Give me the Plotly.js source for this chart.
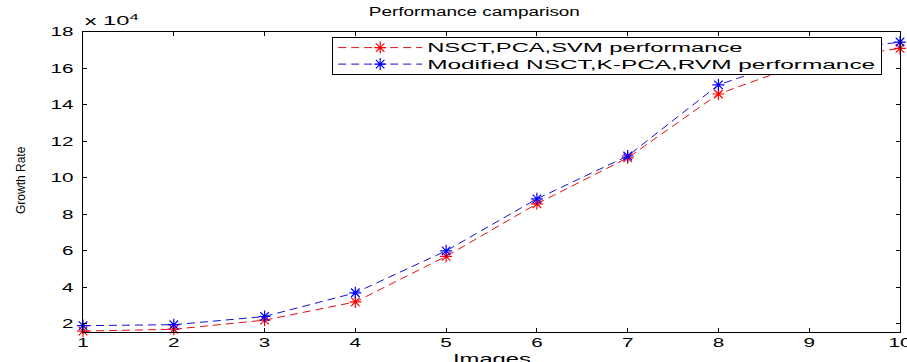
<!DOCTYPE html>
<html>
<head>
<meta charset="utf-8">
<script src="https://cdn.plot.ly/plotly-3.0.1.min.js"></script>
<style>
html,body{margin:0;padding:0;background:#fff;}
#chart{width:907px;height:362px;}
.xtick text, .ytick text { letter-spacing: 4.8px; }
.gtitle { letter-spacing: 3.5px; }
.legendtext { letter-spacing: 6.5px; }
</style>
</head>
<body>
<div id="chart"></div>
<script>
const images = [1, 2, 3, 4, 5, 6, 7, 8, 9, 10];
const nsctPcaSvm = [1.6, 1.7, 2.2, 3.2, 5.7, 8.58, 11.1, 14.6, 16.4, 17.1];
const modifiedNsctKpcaRvm = [1.9, 1.95, 2.4, 3.7, 6.0, 8.85, 11.2, 15.1, 16.8, 17.45];
const yTicks = [2, 4, 6, 8, 10, 12, 14, 16, 18];
const xTicks = [1, 2, 3, 4, 5, 6, 7, 8, 9, 10];

const font = "Liberation Sans, Arial, sans-serif";

const traces = [
  {
    x: images, y: nsctPcaSvm, name: "NSCT,PCA,SVM performance",
    mode: "lines+markers", cliponaxis: false,
    line: {color: "#e01010", width: 1, dash: "8px,5px"},
    marker: {symbol: "asterisk-open", size: 10, color: "#ff0000", line: {color: "#ff0000", width: 1.2}}
  },
  {
    x: images, y: modifiedNsctKpcaRvm, name: "Modified NSCT,K-PCA,RVM performance",
    mode: "lines+markers", cliponaxis: false,
    line: {color: "#1010d0", width: 1, dash: "8px,5px"},
    marker: {symbol: "asterisk-open", size: 10, color: "#0000ff", line: {color: "#0000ff", width: 1.2}}
  }
];

const layout = {
  width: 907, height: 362,
  margin: {l: 83, r: 7, t: 32, b: 30},
  paper_bgcolor: "#fff", plot_bgcolor: "#fff",
  font: {family: font, size: 12, color: "#000"},
  showlegend: true,
  title: {text: "Performance camparison", font: {family: font, size: 12, color: "#000"}, x: 0.523, xanchor: "center", y: 0.967, yanchor: "middle"},
  xaxis: {
    range: [1, 10], tickvals: xTicks, ticktext: xTicks.map(String),
    showgrid: false, zeroline: false, showline: true, linecolor: "#000", linewidth: 1, mirror: "ticks",
    ticks: "inside", ticklen: 4, tickcolor: "#000", tickfont: {size: 12},
    ticklabeloverflow: "allow"
  },
  yaxis: {
    range: [1.55, 18], tickvals: yTicks, ticktext: yTicks.map(String),
    showgrid: false, zeroline: false, showline: true, linecolor: "#000", linewidth: 1, mirror: "ticks",
    ticks: "inside", ticklen: 4, tickcolor: "#000", tickfont: {size: 12},
    ticklabelstandoff: 6
  },
  legend: {
    x: 0.305, y: 0.983, xanchor: "left", yanchor: "top",
    bgcolor: "#fff", bordercolor: "#000", borderwidth: 1,
    font: {size: 12}, tracegroupgap: 0, itemwidth: 84
  },
  annotations: [
    {text: "x 10<sup>4</sup>", xref: "paper", yref: "paper", x: 0, y: 1, xanchor: "left", yanchor: "bottom", showarrow: false, font: {size: 12}, xshift: 13, yshift: 2},
    {text: "Images", xref: "paper", yref: "paper", x: 0.5, y: 0, xanchor: "center", yanchor: "middle", showarrow: false, font: {size: 14}, yshift: -27},
    {text: "Growth Rate", xref: "paper", yref: "paper", x: 0, y: 0.5, xanchor: "center", yanchor: "middle", textangle: -90, showarrow: false, font: {family: font, size: 12}, xshift: -62, yshift: 2}
  ]
};

// Stretch glyphs horizontally: keep the width measured with letter-spacing,
// then draw the glyphs widened to that width instead of spaced.
function stretchText(el, targetWidth) {
  el.style.letterSpacing = "0px";
  el.setAttribute("textLength", targetWidth.toFixed(1));
  el.setAttribute("lengthAdjust", "spacingAndGlyphs");
}

function parseTranslate(el) {
  const t = el.getAttribute("transform") || "";
  const m = /translate\(\s*([-\d.e]+)[ ,]+([-\d.e]+)\s*\)/.exec(t);
  return m ? [parseFloat(m[1]), parseFloat(m[2])] : [0, 0];
}

Plotly.newPlot("chart", traces, layout, {staticPlot: true, displayModeBar: false}).then(function () {
  const root = document.getElementById("chart");
  root.querySelectorAll(".xtick text, .ytick text, .gtitle, .legendtext").forEach(function (el) {
    stretchText(el, el.getComputedTextLength());
  });
  const anns = root.querySelectorAll(".annotation-text");
  if (anns[0]) stretchText(anns[0], 54);
  if (anns[1]) stretchText(anns[1], 78);

  // Compact legend rows to match the reference box height.
  const leg = root.querySelector(".legend");
  if (leg) {
    const bg = leg.querySelector("rect.bg");
    const items = leg.querySelectorAll(".traces");
    const rowCenters = [10.5, 27];
    items.forEach(function (it, i) {
      const p = parseTranslate(it);
      it.setAttribute("transform", "translate(" + p[0] + "," + rowCenters[i] + ")");
    });
    if (bg) bg.setAttribute("height", "37");
  }
});
</script>
</body>
</html>
